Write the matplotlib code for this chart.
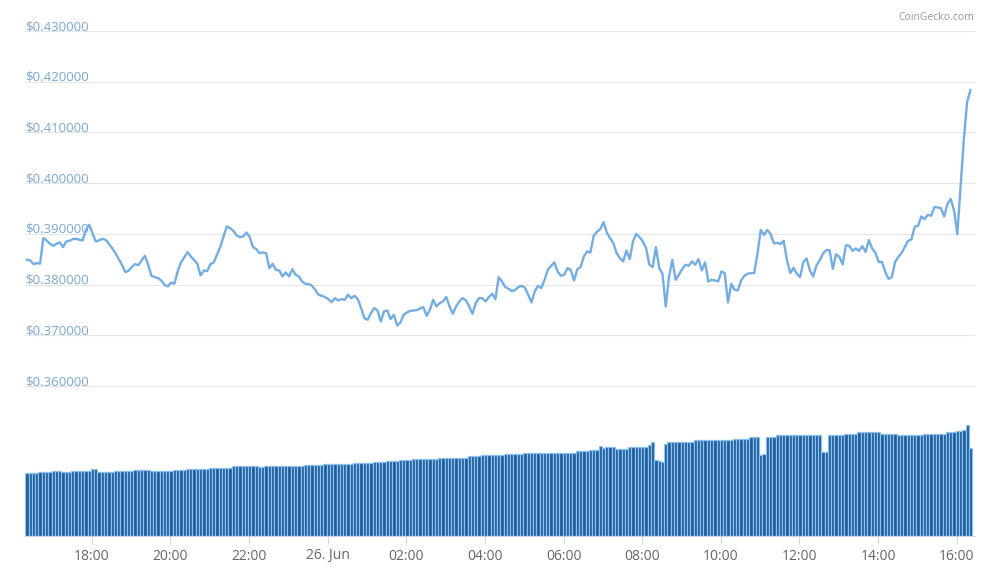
import datetime as dt
import matplotlib
matplotlib.use("Agg")
import matplotlib.pyplot as plt
import matplotlib.dates as mdates
import matplotlib.transforms as mtransforms

plt.rcParams['font.family'] = ['Open Sans', 'DejaVu Sans']

# 5 minute samples, 25 Jun 16:21 -> 26 Jun 16:21
start = dt.datetime(2019, 6, 25, 16, 21)
step = dt.timedelta(minutes=5)

price = [
    0.38488, 0.38475, 0.38403, 0.38423, 0.38410, 0.38916, 0.38870, 0.38804, 0.38764, 0.38804,
    0.38830, 0.38738, 0.38850, 0.38863, 0.38896, 0.38902, 0.38883, 0.38870, 0.39080, 0.39178,
    0.39014, 0.38850, 0.38870, 0.38902, 0.38883, 0.38804, 0.38718, 0.38620, 0.38501, 0.38390,
    0.38245, 0.38272, 0.38344, 0.38403, 0.38383, 0.38475, 0.38567, 0.38390, 0.38173, 0.38147,
    0.38127, 0.38081, 0.37996, 0.37963, 0.38042, 0.38015, 0.38259, 0.38436, 0.38535, 0.38640,
    0.38554, 0.38488, 0.38410, 0.38180, 0.38278, 0.38265, 0.38403, 0.38436, 0.38587, 0.38738,
    0.38948, 0.39145, 0.39113, 0.39060, 0.38968, 0.38935, 0.38948, 0.39027, 0.38935, 0.38738,
    0.38699, 0.38620, 0.38633, 0.38620, 0.38324, 0.38410,
    0.38291, 0.38278, 0.38160, 0.38239, 0.38160, 0.38304, 0.38193, 0.38160, 0.38061, 0.38015,
    0.38009, 0.37976, 0.37897, 0.37799, 0.37779, 0.37753, 0.37713, 0.37654, 0.37733, 0.37687,
    0.37713, 0.37700, 0.37799, 0.37733, 0.37779, 0.37713, 0.37536, 0.37339, 0.37306, 0.37437,
    0.37536, 0.37490, 0.37273, 0.37470, 0.37490, 0.37319, 0.37404, 0.37194, 0.37250, 0.37404,
    0.37450, 0.37480, 0.37490, 0.37495, 0.37530, 0.37556, 0.37385, 0.37503, 0.37700, 0.37569,
    0.37635, 0.37668, 0.37753, 0.37569, 0.37424, 0.37569, 0.37668, 0.37733, 0.37687, 0.37569,
    0.37424, 0.37635, 0.37733, 0.37733, 0.37668, 0.37753, 0.37818, 0.37713, 0.38147, 0.38061,
    0.37950, 0.37917,
    0.37871, 0.37891, 0.37950, 0.37976, 0.37937, 0.37799, 0.37648, 0.37864, 0.37976, 0.37930,
    0.38094, 0.38291, 0.38370, 0.38436, 0.38259, 0.38173, 0.38193, 0.38324, 0.38291, 0.38081,
    0.38304, 0.38344, 0.38554, 0.38653, 0.38633, 0.38961, 0.39040, 0.39093, 0.39231, 0.39027,
    0.38916, 0.38817, 0.38620, 0.38521, 0.38456, 0.38672, 0.38501, 0.38850, 0.39001, 0.38935,
    0.38850, 0.38718, 0.38390, 0.38344, 0.38738, 0.38324, 0.38213, 0.37569, 0.38160, 0.38488,
    0.38094, 0.38193, 0.38304, 0.38390, 0.38370, 0.38456, 0.38390, 0.38501, 0.38278, 0.38436,
    0.38061, 0.38094, 0.38081, 0.38061, 0.38259, 0.38226, 0.37648, 0.38015, 0.37897, 0.37884,
    0.38081, 0.38173, 0.38213,
    0.38226, 0.38226, 0.38611, 0.39077, 0.38977, 0.39077, 0.38997, 0.38811, 0.38824, 0.38797,
    0.38864, 0.38478, 0.38226, 0.38332, 0.38213, 0.38146, 0.38445, 0.38512, 0.38279, 0.38159,
    0.38379, 0.38478, 0.38611, 0.38678, 0.38678, 0.38312, 0.38598, 0.38545, 0.38399, 0.38777,
    0.38764, 0.38665, 0.38711, 0.38665, 0.38758, 0.38645, 0.38877, 0.38711, 0.38625, 0.38445,
    0.38445, 0.38246, 0.38113, 0.38146, 0.38445, 0.38545, 0.38625, 0.38744, 0.38864, 0.38890,
    0.39143, 0.39156, 0.39342, 0.39289, 0.39376, 0.39356, 0.39528, 0.39522, 0.39508, 0.39342,
    0.39595, 0.39688, 0.39462, 0.38997, 0.39940, 0.40871, 0.41602, 0.41834,
]

# volume, arbitrary units (scaled bar heights)
volume = [
    63.3, 63.3, 63.3, 63.3, 64.3, 64.3, 64.3, 64.3, 65.0, 65.0,
    65.0, 64.5, 64.5, 64.5, 65.2, 65.2, 65.2, 65.2, 65.2, 65.2,
    66.7, 66.7, 64.3, 64.3, 64.3, 64.3, 64.3, 65.3, 65.3, 65.3,
    65.3, 65.3, 65.3, 66.0, 66.0, 66.0, 66.0, 66.0, 65.5, 65.5,
    65.5, 65.5, 65.5, 65.5, 65.5, 66.5, 66.5, 66.5, 66.5, 67.5,
    67.5, 67.5, 67.5, 67.5, 67.5, 67.5, 68.2, 68.2, 68.2, 68.2,
    68.2, 68.2, 68.2, 70.0, 70.0, 70.0, 70.0, 70.0, 70.0, 70.0,
    70.0, 69.5, 69.5, 70.0, 70.0, 70.0, 70.0, 70.0, 70.0, 70.0,
    70.0, 70.0, 70.0, 70.0, 70.0, 71.3, 71.3, 71.3, 71.3, 71.3,
    71.3, 72.3, 72.3, 72.3, 72.3, 72.3, 72.3, 72.3, 72.3, 72.3,
    73.3, 73.3, 73.3, 73.3, 73.3, 73.3, 74.3, 74.3, 74.3, 74.3,
    75.3, 75.3, 75.3, 75.3, 76.3, 76.3, 76.3, 76.3, 77.0, 77.0,
    77.0, 77.0, 77.0, 77.0, 77.0, 77.0, 78.3, 78.3, 78.3, 78.3,
    78.3, 78.3, 78.3, 78.3, 78.3, 80.0, 80.0, 80.0, 80.0, 81.0,
    81.0, 81.0, 81.0, 81.0, 81.0, 81.0, 82.0, 82.0, 82.0, 82.0,
    82.0, 82.0, 83.3, 83.3, 83.3, 83.3, 83.3, 83.3, 83.3, 83.3,
    83.3, 83.3, 83.3, 83.3, 83.3, 83.3, 83.3, 83.3, 84.7, 84.7,
    84.7, 84.7, 86.3, 86.3, 86.3, 89.7, 88.0, 89.0, 89.0, 89.0,
    87.3, 87.3, 87.3, 87.3, 89.0, 89.0, 89.0, 89.0, 89.0, 89.0,
    91.3, 94.0, 75.7, 75.0, 74.5, 92.0, 94.0, 94.0, 94.0, 94.0,
    94.0, 94.0, 94.0, 94.0, 95.7, 95.7, 95.7, 95.7, 96.3, 96.3,
    96.3, 96.3, 96.3, 96.3, 96.3, 96.3, 97.3, 97.3, 97.3, 97.3,
    97.3, 98.7, 98.7, 98.7, 80.7, 82.0, 98.7, 98.7, 98.7, 100.7,
    100.7, 100.7, 100.7, 100.7, 100.7, 100.7, 100.7, 100.7, 100.7, 100.7,
    100.7, 100.7, 100.7, 84.0, 84.0, 100.7, 100.7, 100.7, 100.7, 100.7,
    102.0, 102.0, 102.0, 102.0, 104.0, 104.0, 104.0, 104.0, 104.0, 104.0,
    104.0, 102.0, 102.0, 102.0, 102.0, 102.0, 100.7, 100.7, 100.7, 100.7,
    100.7, 100.7, 100.7, 100.7, 102.0, 102.0, 102.0, 102.0, 102.0, 102.0,
    102.0, 104.0, 104.0, 104.0, 105.0, 105.5, 106.3, 110.7, 88.0,
]

price_ticks = [0.36, 0.37, 0.38, 0.39, 0.40, 0.41, 0.42, 0.43]
time_ticks = [dt.datetime(2019, 6, 25, 18), dt.datetime(2019, 6, 25, 20),
              dt.datetime(2019, 6, 25, 22), dt.datetime(2019, 6, 26, 0),
              dt.datetime(2019, 6, 26, 2), dt.datetime(2019, 6, 26, 4),
              dt.datetime(2019, 6, 26, 6), dt.datetime(2019, 6, 26, 8),
              dt.datetime(2019, 6, 26, 10), dt.datetime(2019, 6, 26, 12),
              dt.datetime(2019, 6, 26, 14), dt.datetime(2019, 6, 26, 16)]
time_labels = ['18:00', '20:00', '22:00', '26. Jun', '02:00', '04:00',
               '06:00', '08:00', '10:00', '12:00', '14:00', '16:00']

t_price = [start + i * step for i in range(len(price))]
t_vol = [start + i * step for i in range(len(volume))]

fig = plt.figure(figsize=(9.95, 5.79), dpi=100)
ax = fig.add_axes([25 / 995, 43 / 579, 950 / 995, 505 / 579])
axv = ax.twinx()

# volume columns at the bottom
axv.bar(t_vol, volume, width=5 / 1440, color='#1d5c9a', edgecolor='#8cc1ee',
        linewidth=0.9, align='center')
axv.set_ylim(0, 505)
axv.set_yticks([])
for s in axv.spines.values():
    s.set_visible(False)

# price line on top
ax.set_zorder(axv.get_zorder() + 1)
ax.patch.set_visible(False)
ax.plot(t_price, price, color='#74ade2', linewidth=1.7, solid_joinstyle='round')

ax.set_ylim(0.33042, 0.43)
ax.set_xlim(mdates.date2num(dt.datetime(2019, 6, 25, 16, 18)),
            mdates.date2num(dt.datetime(2019, 6, 26, 16, 28)))

ax.set_yticks(price_ticks, ['${:.6f}'.format(v) for v in price_ticks])
ax.tick_params(axis='y', length=0, pad=0, labelsize=9.5, labelcolor='#7aa8d0')
for lab in ax.get_yticklabels():
    lab.set_horizontalalignment('left')
    lab.set_verticalalignment('bottom')
    lab.set_transform(lab.get_transform() + mtransforms.ScaledTranslation(0, -1.5 / 72, fig.dpi_scale_trans))
ax.grid(axis='y', color='#e6e6e6', linewidth=0.8)
ax.set_axisbelow(True)

ax.set_xticks(mdates.date2num(time_ticks), time_labels)
ax.tick_params(axis='x', length=6, width=0.8, color='#ccd6eb', pad=3,
               labelsize=10, labelcolor='#666666')

for k in ['top', 'right', 'left']:
    ax.spines[k].set_visible(False)
ax.spines['bottom'].set_color('#ccd6eb')
ax.spines['bottom'].set_linewidth(0.8)

fig.text(974 / 995, 1 - 17 / 579, 'CoinGecko.com', ha='right', va='center',
         fontsize=7.5, color='#999999')

fig.savefig('out.png', dpi=100)
